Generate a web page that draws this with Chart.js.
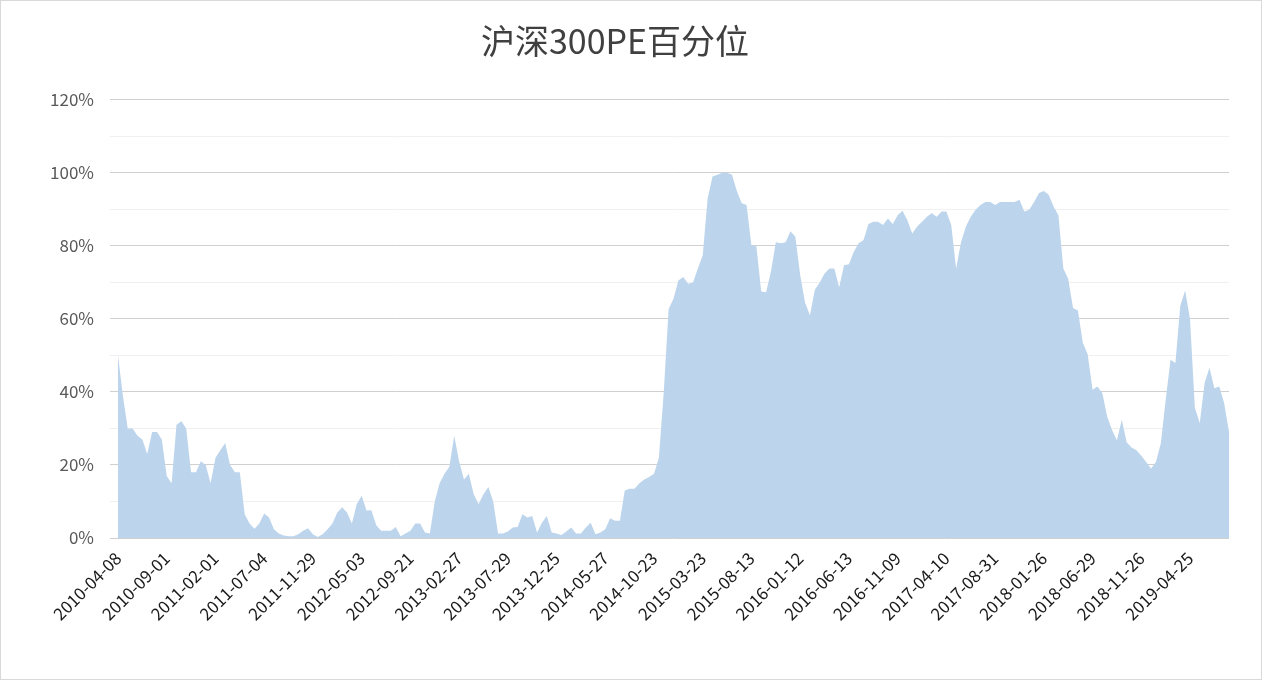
<!DOCTYPE html>
<html><head><meta charset="utf-8">
<script src="https://cdn.jsdelivr.net/npm/chart.js@4.4.0/dist/chart.umd.min.js"></script>
<style>html,body{margin:0;padding:0;background:#fff}#wrap{width:1262px;height:680px;box-sizing:border-box;border:1px solid #d9d9d9}</style>
</head><body><div id="wrap"><canvas id="c" width="1260" height="678"></canvas></div>
<script>
const tickDates = ['2010-04-08','2010-09-01','2011-02-01','2011-07-04','2011-11-29','2012-05-03','2012-09-21','2013-02-27','2013-07-29','2013-12-25','2014-05-27','2014-10-23','2015-03-23','2015-08-13','2016-01-12','2016-06-13','2016-11-09','2017-04-10','2017-08-31','2018-01-26','2018-06-29','2018-11-26','2019-04-25'];
const pePercentile = [
50,39,30,30,28,27,23,29,29,27, 17,15,31,32,30,18,18,21,20,15,
22,24,26,20,18,18,6.5,4,2.5,4, 6.7,5.6,2.4,1.2,0.7,0.5,0.5,1,2,2.7,
1,0.3,1,2.4,4,7,8.4,7,4,9.3, 11.6,7.5,7.6,3.5,2,2,2,3,0.5,1.2,
2,4,4,1.5,1.2,10,15,17.6,19.5,28, 21,16,17.6,12,9.3,12,14,10,1.2,1.2,
1.8,2.9,3,6.5,5.6,6,1.5,4.2,6,1.5, 1.2,0.8,1.8,2.9,1.2,1.2,2.9,4.2,1,1.5,
2.4,5.4,4.7,4.7,13,13.5,13.5,15,16,16.7, 17.6,22,40,62.7,65.5,70.5,71.5,69.6,70,73.8,
77.4,93,99,99.5,100,100,99.5,95,91.7,91.2, 80,80,67.5,67.3,73,81,80.7,81,84,82.5,
72,64.5,61,68,70,72.4,73.8,73.8,68.7,74.7, 75,78.4,80.7,81.6,86,86.6,86.6,85.7,87.5,86,
88.4,89.6,87,83.4,85.3,86.6,88,89,88,89.4, 89.4,85.7,73.8,81,85.3,88,89.9,91.2,92,92,
91.2,92,92,92,92,92.6,89.4,89.9,92,94.5, 95,94,90.8,88.4,73.8,71,63,62.3,53.5,50.3,
40.6,41.5,39.7,33.3,29.6,26.8,32.4,26.2,24.8,24, 22.5,20.8,19,20.8,25.9,37.8,48.8,47.9,63.6,67.8,
60,35.7,31.5,42.5,46.6,41,41.5,37,29];
const labels = pePercentile.map((v,i)=> i%10===0 && tickDates[i/10] ? tickDates[i/10] : '');
const font = "'Noto Sans CJK SC','Noto Sans',sans-serif";
new Chart(document.getElementById('c'),{
  type:'line',
  data:{labels, datasets:[{data:pePercentile, fill:'origin', backgroundColor:'#bdd5ec', borderWidth:0, pointRadius:0, tension:0}]},
  options:{
    responsive:false, animation:false,
    layout:{padding:{top:8,right:32,left:0,bottom:0}},
    plugins:{legend:{display:false}, tooltip:{enabled:false},
      title:{display:true, text:'沪深300PE百分位', color:'#404040', font:{family:font,size:34,weight:'normal'}, padding:{top:12,bottom:38}}},
    scales:{
      x:{grid:{display:false}, border:{display:false},
         ticks:{autoSkip:false, maxRotation:45, minRotation:45, color:'#1a1a1a', font:{family:font,size:17}, padding:2},
         afterFit:s=>{s.height=141;}},
      y:{min:0,max:120, border:{display:false},
         grid:{color:c=> (c.tick && c.tick.value%20===0) ? '#d0d0d0' : '#f0f0f0'},
         ticks:{stepSize:10, autoSkip:false, color:'#595959', font:{family:font,size:17}, padding:16, callback:v=> v%20===0 ? v+'%' : ''},
         afterFit:s=>{s.width=117;}}
    }
  }
});
</script></body></html>
